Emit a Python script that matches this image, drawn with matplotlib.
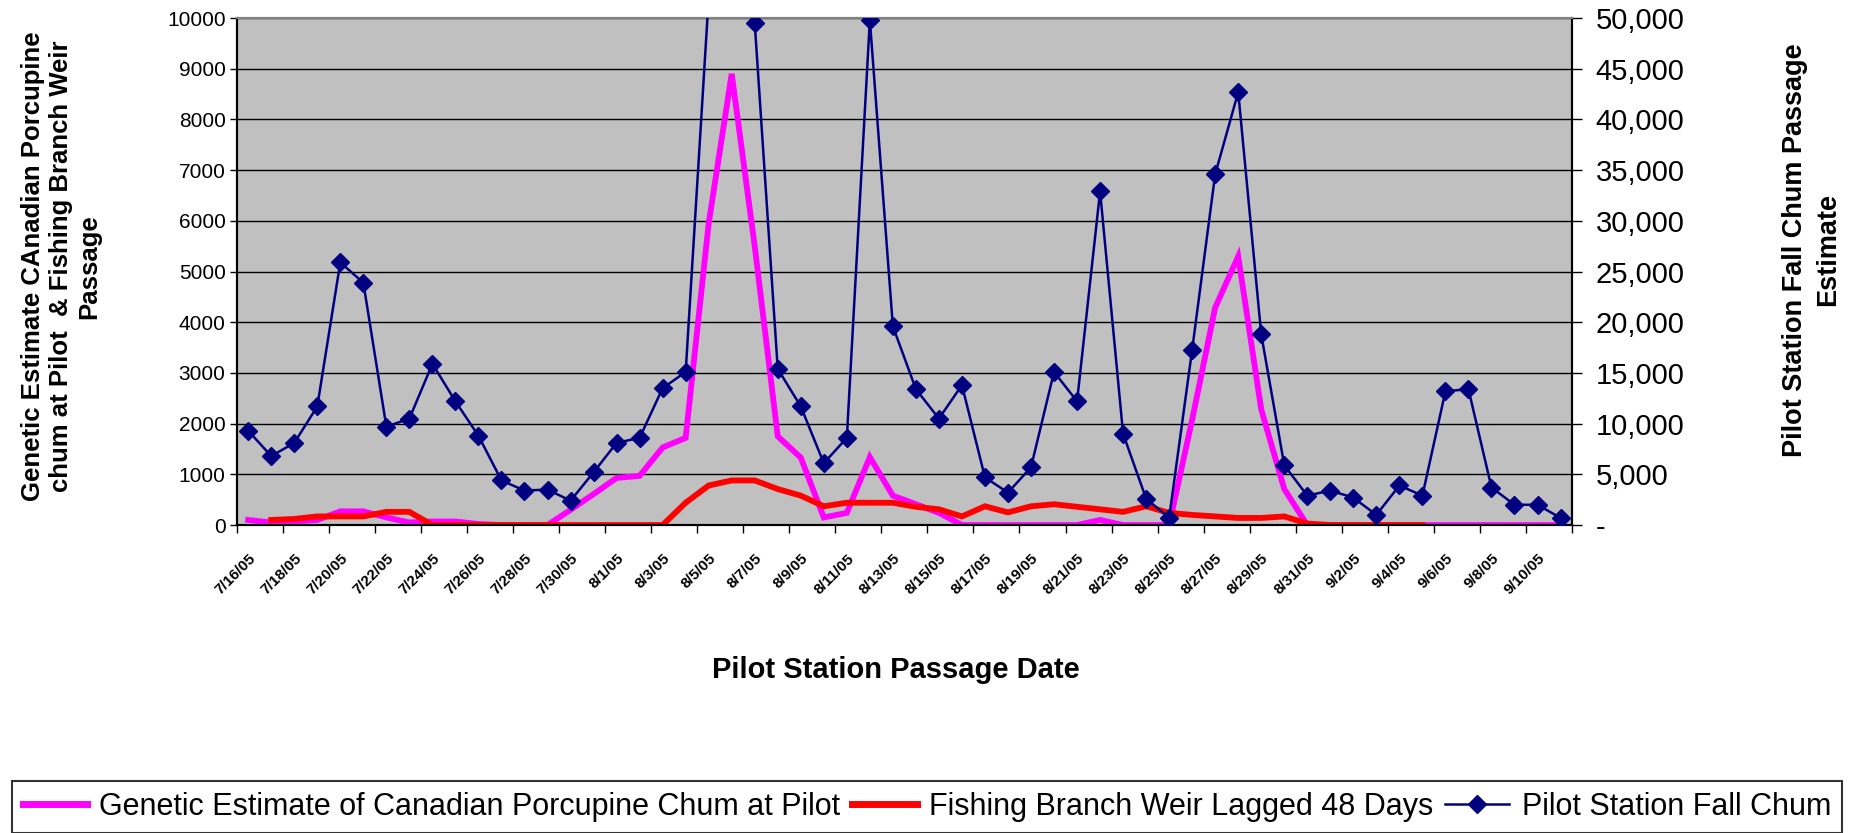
import matplotlib
matplotlib.use("Agg")
import matplotlib.pyplot as plt
from matplotlib.lines import Line2D
from matplotlib.ticker import FuncFormatter

plt.rcParams['font.family'] = ['Liberation Sans', 'DejaVu Sans']

# daily categories (pilot station passage date)
dates = ["7/16/05", "7/17/05", "7/18/05", "7/19/05", "7/20/05", "7/21/05", "7/22/05", "7/23/05",
         "7/24/05", "7/25/05", "7/26/05", "7/27/05", "7/28/05", "7/29/05", "7/30/05", "7/31/05",
         "8/1/05", "8/2/05", "8/3/05", "8/4/05", "8/5/05", "8/6/05", "8/7/05", "8/8/05",
         "8/9/05", "8/10/05", "8/11/05", "8/12/05", "8/13/05", "8/14/05", "8/15/05", "8/16/05",
         "8/17/05", "8/18/05", "8/19/05", "8/20/05", "8/21/05", "8/22/05", "8/23/05", "8/24/05",
         "8/25/05", "8/26/05", "8/27/05", "8/28/05", "8/29/05", "8/30/05", "8/31/05", "9/1/05",
         "9/2/05", "9/3/05", "9/4/05", "9/5/05", "9/6/05", "9/7/05", "9/8/05", "9/9/05",
         "9/10/05", "9/11/05"]

genetic = [100, 50, 70, 100, 270, 270, 150, 50, 70, 70, 20, 0, 0, 0, 300, 610, 930, 970, 1530, 1720,
           5950, 8900, 5500, 1750, 1330, 150, 240, 1340, 580, 410, 240, 0, 0, 0, 0, 0, 0, 100, 0, 0,
           0, 2080, 4290, 5300, 2280, 710, 0, 0, 0, 0, 0, 0, 0, 0, 0, 0, 0, 0]

weir = [None, 100, 120, 170, 170, 170, 260, 260, 0, 0, 0, 0, 0, 0, 0, 0, 0, 0, 0, 440,
        780, 880, 880, 710, 580, 370, 440, 440, 440, 360, 310, 170, 370, 250, 370, 410, 360, 310, 260, 370,
        240, 200, 170, 140, 140, 170, 30, 0, 0, 0, 0, 0, None, None, None, None, None, None]

pilot = [9300, 6800, 8100, 11700, 25900, 23900, 9700, 10500, 15900, 12200, 8800, 4400, 3400, 3500, 2400,
         5200, 8100, 8600, 13500, 15100, 52000, 56000, 49500, 15400, 11700, 6100, 8600, 49800, 19600, 13400,
         10500, 13800, 4700, 3200, 5700, 15100, 12200, 32900, 9000, 2600, 700, 17300, 34600, 42700, 18800,
         5900, 2900, 3400, 2700, 1000, 3900, 2900, 13200, 13400, 3700, 2000, 2000, 700]

x = list(range(len(dates)))
wx = [i for i, v in zip(x, weir) if v is not None]
wy = [v for v in weir if v is not None]

fig = plt.figure(figsize=(18.58, 8.33), dpi=100)
ax1 = fig.add_axes([0.1274, 0.3697, 0.7187, 0.6086])
ax1.set_facecolor('#C0C0C0')

ax1.plot(x, genetic, color='#FF00FF', lw=4.2, solid_joinstyle='miter', zorder=3)
ax1.plot(wx, wy, color='#FF0000', lw=4.2, solid_joinstyle='miter', zorder=4)
ax1.set_ylim(0, 10000)
ax1.set_yticks(range(0, 10001, 1000))
ax1.yaxis.grid(True, color='black', lw=1)
ax1.set_axisbelow(True)
ax1.set_xlim(-0.5, len(dates) - 0.5)

ax2 = ax1.twinx()
ax2.plot(x, pilot, color='#000080', lw=1.8, marker='D', markersize=9, zorder=5)
ax2.set_ylim(0, 50000)
ax2.set_yticks(range(0, 50001, 5000))
ax2.yaxis.set_major_formatter(FuncFormatter(lambda v, p: '-' if v == 0 else f'{int(v):,}'))

# ticks between categories, labels on every other category
ax1.set_xticks([i - 0.5 for i in range(0, len(dates) + 1, 2)])
ax1.set_xticklabels([])
ax1.set_xticks(x[::2], minor=True)
ax1.set_xticklabels(dates[::2], minor=True, rotation=45, ha='right', rotation_mode='anchor',
                    fontsize=11, fontweight='bold')
ax1.tick_params(axis='x', which='major', direction='out', length=6, width=1)
ax1.tick_params(axis='x', which='minor', length=0, pad=19)
ax1.tick_params(axis='y', direction='out', length=5, width=1, pad=3, labelsize=15)
ax2.tick_params(axis='y', direction='out', length=7, width=1, pad=10, labelsize=21)

for a in (ax1, ax2):
    a.spines['top'].set_color('#808080')
    a.spines['top'].set_linewidth(1.5)
    a.spines['left'].set_linewidth(1.5)
    a.spines['right'].set_linewidth(1.5)
    a.spines['bottom'].set_linewidth(1.5)

fig.text(61 / 1858, 0.68, "Genetic Estimate CAnadian Porcupine\nchum at Pilot  & Fishing Branch Weir\nPassage",
         rotation=90, ha='center', va='center', multialignment='center', fontsize=18.5,
         fontweight='bold', linespacing=1.22)
fig.text(1812 / 1858, 0.70, "Pilot Station Fall Chum Passage\nEstimate", rotation=90, ha='center',
         va='center', multialignment='center', fontsize=19.5, fontweight='bold', linespacing=1.35)
fig.text(896 / 1858, 0.196, "Pilot Station Passage Date", ha='center', va='center', fontsize=21,
         fontweight='bold')

handles = [Line2D([], [], color='#FF00FF', lw=5),
           Line2D([], [], color='#FF0000', lw=5),
           Line2D([], [], color='#000080', lw=1.8, marker='D', markersize=9)]
labels = ["Genetic Estimate of Canadian Porcupine Chum at Pilot", "Fishing Branch Weir Lagged 48 Days",
          "Pilot Station Fall Chum"]
leg = fig.legend(handles, labels, loc='upper left', bbox_to_anchor=(12 / 1858, 0.062), ncol=3,
                 fontsize=22, frameon=True, fancybox=False, edgecolor='black', handlelength=2.1,
                 handletextpad=0.4, columnspacing=0.4, borderpad=0.35, borderaxespad=0)
leg.get_frame().set_linewidth(1.5)

fig.savefig('out.png', dpi=100)
